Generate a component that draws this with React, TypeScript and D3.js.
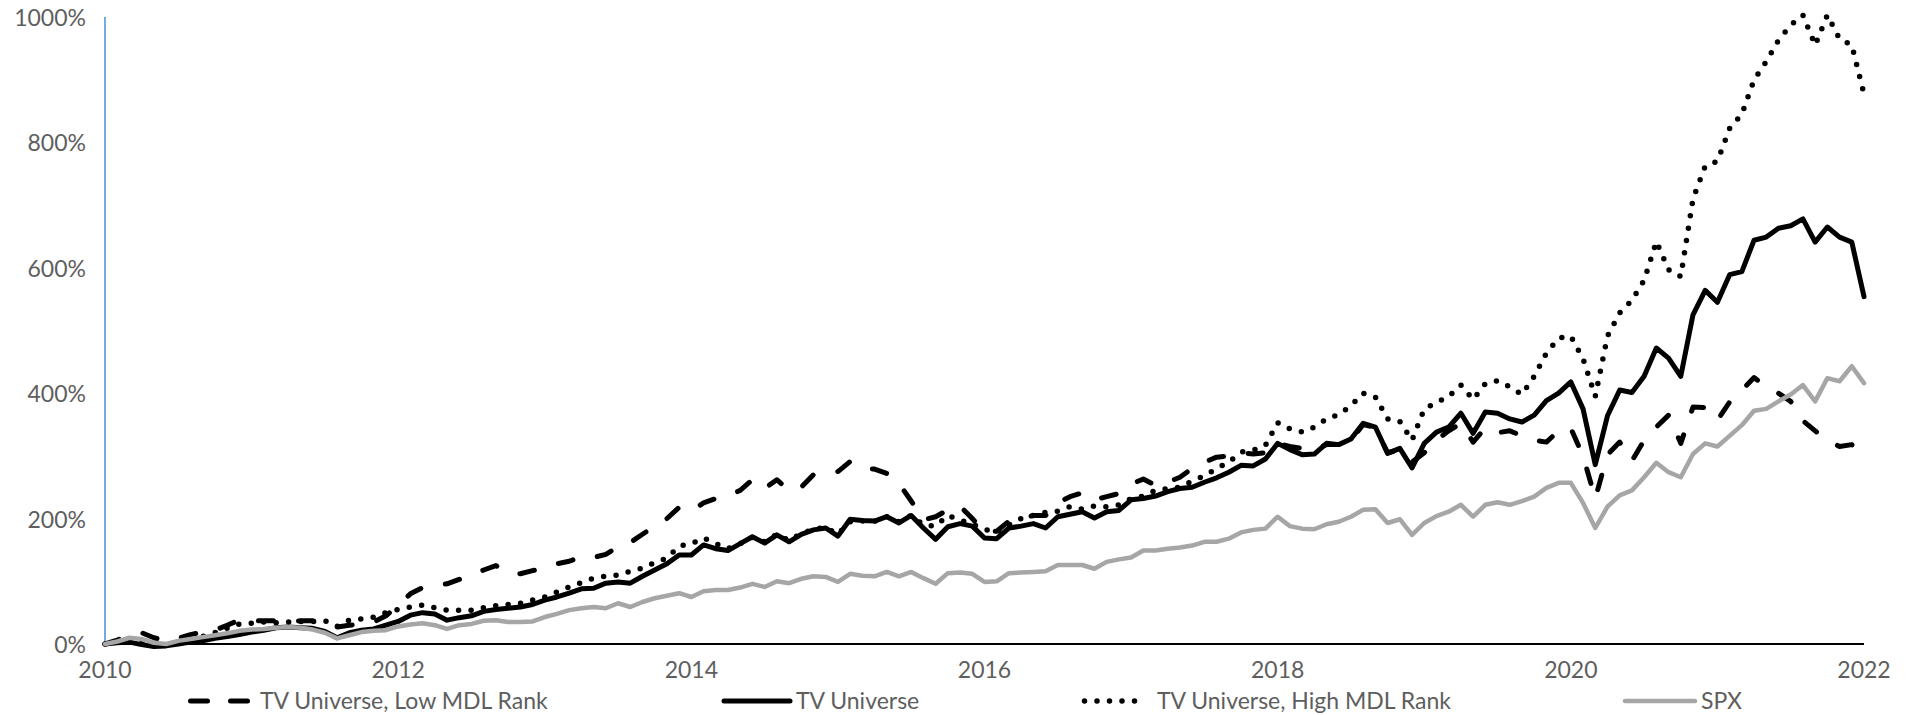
import React from "react";
import * as d3 from "d3";

const startYear = 2010;
const endYear = 2022;
const xTicks = [2010, 2012, 2014, 2016, 2018, 2020, 2022];
const yTicks = [0, 200, 400, 600, 800, 1000];

const seriesNames = [
  "TV Universe, Low MDL Rank",
  "TV Universe",
  "TV Universe, High MDL Rank",
  "SPX",
];

// Monthly cumulative return (%), Jan 2010 .. Jan 2022
const lowMDL = [
  0, 6, 15, 18, 10, 5, 9, 15, 19, 22, 30, 38,
  37, 37, 37, 36, 37, 37, 35, 27, 30, 32, 35, 45,
  62, 80, 90, 94, 96, 103, 110, 118, 125, 113, 112, 117,
  121, 128, 132, 139, 138, 143, 155, 162, 175, 188, 200, 218,
  212, 225, 232, 236, 245, 262, 248, 262, 245, 250, 270, 272,
  275, 291, 280, 279, 272, 256, 228, 198, 203, 214, 220, 200,
  180, 180, 196, 200, 205, 205, 225, 235, 241, 230, 235, 240,
  255, 263, 253, 258, 266, 280, 290, 298, 300, 305, 303, 305,
  320, 315, 312, 310, 318, 318, 325, 350, 345, 305, 310, 290,
  305, 325, 340, 352, 322, 345, 337, 340, 332, 325, 322, 340,
  344, 300, 232, 302, 322, 292, 325, 346, 365, 320, 378, 377,
  357, 386, 405, 425, 410, 400, 387, 356, 340, 325, 315, 318,
  305,
];

const tvUniverse = [
  0, 2, 3, -1, -4, -3, 0, 3, 5, 9, 12, 15,
  19, 22, 26, 27, 26, 25, 20, 10, 18, 22, 24, 30,
  36, 46, 50, 48, 38, 42, 45, 52, 55, 57, 59, 63,
  70, 75, 81, 88, 89, 97, 99, 97, 108, 118, 128, 142,
  142, 158, 152, 149, 160, 171, 161, 174, 163, 175, 182, 185,
  172, 199, 197, 196, 203, 193, 205, 185, 167, 187, 192, 188,
  169, 168, 185, 188, 192, 185, 203, 207, 211, 201, 211, 213,
  230, 232, 236, 243, 248, 250, 258, 265, 274, 285, 284, 295,
  320, 310, 302, 303, 320, 318, 327, 352, 346, 304, 312, 281,
  320, 338, 346, 368, 336, 370, 368, 359, 354, 365, 388, 400,
  418, 375, 286, 364, 405, 401, 427, 472, 456, 427, 525, 564,
  545, 589, 594, 644, 649, 663, 667, 678, 641, 665, 649, 641,
  554,
];

const highMDL = [
  0, 3, 5, 3, 0, -2, 2, 5, 12, 18, 25, 32,
  33, 35, 34, 35, 36, 36, 37, 28, 38, 40, 43, 50,
  55, 59, 62, 58, 54, 54, 54, 58, 61, 63, 65, 70,
  75, 83, 91, 98, 105, 108, 110, 116, 121, 130, 137, 156,
  160, 169, 160, 152, 160, 170, 163, 175, 165, 176, 183, 186,
  175, 195, 196, 196, 203, 195, 205, 190, 188, 205, 198, 191,
  183, 178, 190, 200, 205, 210, 212, 219, 215, 220, 219, 222,
  232, 236, 245, 248, 250, 260, 268, 280, 290, 306, 309, 317,
  353, 343, 338, 346, 359, 366, 380, 400, 394, 359, 355, 325,
  375, 385, 395, 413, 390, 415, 420, 410, 398, 427, 464, 488,
  491, 455, 395, 491, 528, 548, 580, 642, 597, 586, 710, 762,
  770, 822, 845, 900, 929, 963, 987, 1003, 955, 1003, 965, 955,
  877,
];

const spx = [
  0, 4, 10, 8, 2, 0, 5, 8, 11, 14, 17, 21,
  23, 24, 26, 27, 26, 23, 18, 9, 14, 19, 21, 22,
  28, 31, 33, 30, 24, 30, 32, 37, 38, 35, 35, 36,
  43, 48, 54, 57, 59, 57, 65, 59, 67, 73, 77, 81,
  75, 84, 86, 86, 90, 96, 91, 100, 97, 104, 108, 107,
  99, 112, 109, 108, 115, 108, 115, 105, 96, 113, 114, 112,
  99, 100, 113, 114, 115, 116, 126, 126, 126, 120, 131, 135,
  138, 149, 149, 152, 154, 157, 163, 163, 168, 178, 182, 184,
  203, 188, 184, 183, 191, 195, 203, 214, 215, 193, 199, 174,
  193, 204, 211, 222, 203, 222, 226, 222, 228, 235, 249, 257,
  257, 225, 185, 219, 237, 245, 266, 289, 274, 266, 303, 320,
  315, 332, 349, 372, 375, 387, 398, 413, 387, 424, 419, 443,
  416,
];

const W = 1911;
const H = 715;
const FONT = "Lato, 'Open Sans', 'DejaVu Sans', sans-serif";
const TEXT = "#5E5E5E";
const GRAY = "#A6A6A6";

const styles = [
  { stroke: "#000", width: 5, dash: "15 25", cap: "round" },
  { stroke: "#000", width: 5, dash: undefined, cap: "round" },
  { stroke: "#000", width: 5.5, dash: "0 12.5", cap: "round" },
  { stroke: GRAY, width: 4.5, dash: undefined, cap: "round" },
];

const legendPos = [
  { x0: 188, x1: 250, tx: 260 },
  { x0: 722, x1: 792, tx: 796 },
  { x0: 1082, x1: 1147, tx: 1157 },
  { x0: 1623, x1: 1697, tx: 1701 },
];

export default function App() {
  const x = d3.scaleLinear().domain([startYear, endYear]).range([105, 1864]);
  const y = d3.scaleLinear().domain([0, 1000]).range([644, 17]);
  const line = d3
    .line<number>()
    .x((_, i) => x(startYear + i / 12))
    .y((d) => y(d));

  const data = [lowMDL, tvUniverse, highMDL, spx];
  const legendY = 700;

  return (
    <svg
      width={W}
      height={H}
      style={{ position: "absolute", left: 0, top: 0, background: "#fff" }}
    >
      <rect x={0} y={0} width={W} height={H} fill="#fff" />
      {yTicks.map((t) => (
        <text
          key={t}
          x={86}
          y={y(t)}
          textAnchor="end"
          dominantBaseline="central"
          fontFamily={FONT}
          fontSize={23}
          fill={TEXT}
        >
          {t}%
        </text>
      ))}
      {xTicks.map((t) => (
        <text
          key={t}
          x={x(t)}
          y={669}
          textAnchor="middle"
          dominantBaseline="central"
          fontFamily={FONT}
          fontSize={23}
          fill={TEXT}
        >
          {t}
        </text>
      ))}
      <line x1={x(startYear)} x2={x(startYear)} y1={y(1000)} y2={y(0)} stroke="#4A8FD6" strokeWidth={1.5} />
      <line x1={x(startYear)} x2={x(endYear)} y1={y(0)} y2={y(0)} stroke="#000" strokeWidth={1.8} />
      {data.map((d, i) => (
        <path
          key={i}
          d={line(d) || ""}
          fill="none"
          stroke={styles[i].stroke}
          strokeWidth={styles[i].width}
          strokeDasharray={styles[i].dash}
          strokeLinecap={styles[i].cap as any}
          strokeLinejoin="round"
        />
      ))}
      {seriesNames.map((name, i) => (
        <g key={name}>
          <line
            x1={legendPos[i].x0 + (i === 0 || i === 2 ? 2.5 : 2)}
            x2={legendPos[i].x1 - (i === 0 || i === 2 ? 2.5 : 2)}
            y1={legendY + 1}
            y2={legendY + 1}
            stroke={styles[i].stroke}
            strokeWidth={styles[i].width}
            strokeDasharray={i === 0 ? "17 23" : styles[i].dash}
            strokeLinecap="round"
          />
          <text
            x={legendPos[i].tx}
            y={legendY}
            dominantBaseline="central"
            fontFamily={FONT}
            fontSize={23}
            fill={TEXT}
          >
            {name}
          </text>
        </g>
      ))}
    </svg>
  );
}
